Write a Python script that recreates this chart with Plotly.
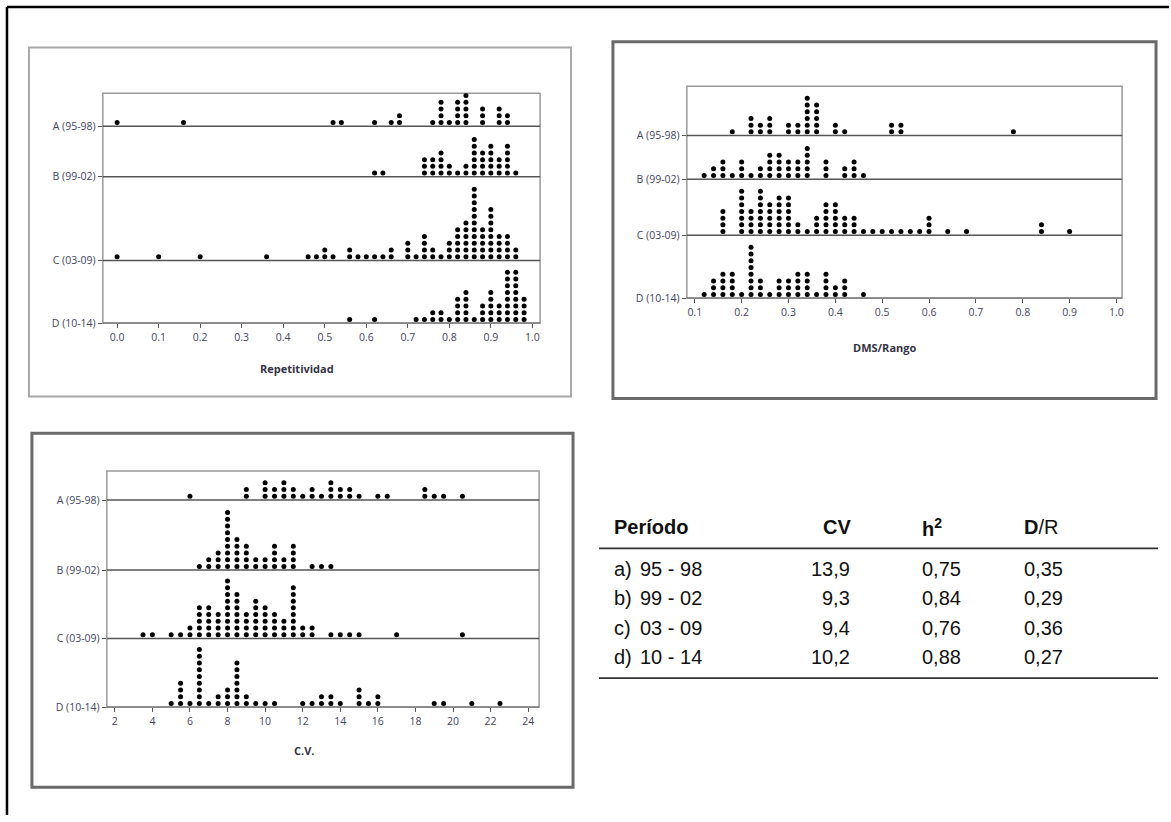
import plotly.graph_objects as go

W, H = 1171, 822

# ---------------- DATA ----------------
groups = ["A (95-98)", "B (99-02)", "C (03-09)", "D (10-14)"]

# Repetitividad (dot plot: value, number of stacked dots)
rep_A_vals = [0.00, 0.16, 0.52, 0.54, 0.62, 0.66, 0.68, 0.76, 0.78, 0.80, 0.82, 0.84, 0.88, 0.92, 0.94]
rep_A_cnts = [1, 1, 1, 1, 1, 1, 2, 1, 4, 1, 4, 6, 3, 3, 2]
rep_B_vals = [0.62, 0.64, 0.74, 0.76, 0.78, 0.80, 0.82, 0.84, 0.86, 0.88, 0.90, 0.92, 0.94, 0.96]
rep_B_cnts = [1, 1, 3, 3, 4, 2, 1, 2, 6, 4, 5, 3, 5, 1]
rep_C_vals = [0.00, 0.10, 0.20, 0.36, 0.46, 0.48, 0.50, 0.52, 0.56, 0.58, 0.60, 0.62, 0.64, 0.66,
              0.70, 0.72, 0.74, 0.76, 0.78, 0.80, 0.82, 0.84, 0.86, 0.88, 0.90, 0.92, 0.94, 0.96]
rep_C_cnts = [1, 1, 1, 1, 1, 1, 2, 1, 2, 1, 1, 1, 1, 2, 3, 1, 4, 2, 1, 3, 5, 6, 11, 5, 8, 4, 4, 2]
rep_D_vals = [0.56, 0.62, 0.72, 0.74, 0.76, 0.78, 0.80, 0.82, 0.84, 0.86, 0.88, 0.90, 0.92, 0.94, 0.96, 0.98]
rep_D_cnts = [1, 1, 1, 1, 2, 2, 1, 4, 5, 1, 3, 5, 3, 8, 8, 4]

# DMS/Rango
dms_A_vals = [0.18, 0.22, 0.24, 0.26, 0.30, 0.32, 0.34, 0.36, 0.40, 0.42, 0.52, 0.54, 0.78]
dms_A_cnts = [1, 3, 2, 3, 2, 2, 6, 5, 2, 1, 2, 2, 1]
dms_B_vals = [0.12, 0.14, 0.16, 0.18, 0.20, 0.22, 0.24, 0.26, 0.28, 0.30, 0.32, 0.34, 0.38, 0.42, 0.44, 0.46]
dms_B_cnts = [1, 2, 3, 1, 3, 1, 2, 4, 4, 3, 3, 5, 3, 2, 3, 1]
dms_C_vals = [0.16, 0.20, 0.22, 0.24, 0.26, 0.28, 0.30, 0.32, 0.34, 0.36, 0.38, 0.40, 0.42, 0.44,
              0.46, 0.48, 0.50, 0.52, 0.54, 0.56, 0.58, 0.60, 0.64, 0.68, 0.84, 0.90]
dms_C_cnts = [4, 7, 4, 7, 5, 6, 6, 2, 1, 3, 5, 5, 3, 3, 1, 1, 1, 1, 1, 1, 1, 3, 1, 1, 2, 1]
dms_D_vals = [0.12, 0.14, 0.16, 0.18, 0.20, 0.22, 0.24, 0.26, 0.28, 0.30, 0.32, 0.34, 0.36, 0.38, 0.40, 0.42, 0.46]
dms_D_cnts = [1, 3, 4, 4, 1, 8, 3, 1, 3, 3, 4, 4, 1, 4, 2, 3, 1]

# C.V.
cv_A_vals = [6.0, 9.0, 10.0, 10.5, 11.0, 11.5, 12.0, 12.5, 13.0, 13.5, 14.0, 14.5, 15.0, 16.0, 16.5, 18.5, 19.0, 19.5, 20.5]
cv_A_cnts = [1, 2, 3, 2, 3, 2, 1, 2, 1, 3, 2, 2, 1, 1, 1, 2, 1, 1, 1]
cv_B_vals = [6.5, 7.0, 7.5, 8.0, 8.5, 9.0, 9.5, 10.0, 10.5, 11.0, 11.5, 12.5, 13.0, 13.5]
cv_B_cnts = [1, 2, 3, 9, 5, 4, 2, 2, 4, 2, 4, 1, 1, 1]
cv_C_vals = [3.5, 4.0, 5.0, 5.5, 6.0, 6.5, 7.0, 7.5, 8.0, 8.5, 9.0, 9.5, 10.0, 10.5, 11.0, 11.5,
             12.0, 12.5, 13.5, 14.0, 14.5, 15.0, 17.0, 20.5]
cv_C_cnts = [1, 1, 1, 1, 2, 5, 5, 4, 9, 7, 4, 6, 5, 4, 3, 8, 2, 2, 1, 1, 1, 1, 1, 1]
cv_D_vals = [5.0, 5.5, 6.0, 6.5, 7.0, 7.5, 8.0, 8.5, 9.0, 9.5, 10.0, 10.5, 12.0, 12.5, 13.0, 13.5,
             14.0, 15.0, 15.5, 16.0, 19.0, 19.5, 21.0, 22.5]
cv_D_cnts = [1, 4, 1, 9, 1, 2, 3, 7, 2, 1, 1, 1, 1, 1, 2, 2, 1, 3, 1, 2, 1, 1, 1, 1]

# Summary table
tbl_header = ["<b>Período</b>", "<b>CV</b>", "<b>h<sup>2</sup></b>", "<b>D</b>/R"]
tbl_period_letter = ["a)", "b)", "c)", "d)"]
tbl_period_range = ["95 - 98", "99 - 02", "03 - 09", "10 - 14"]
tbl_cv = ["13,9", "9,3", "9,4", "10,2"]
tbl_h2 = ["0,75", "0,84", "0,76", "0,88"]
tbl_dr = ["0,35", "0,29", "0,36", "0,27"]

# ---------------- LAYOUT HELPERS ----------------
def fx(px):
    return px / W

def fy(py):
    return 1 - py / H

TXT = "#45455f"
FONT = "Open Sans"
DOT_FIRST = 3.7   # px above baseline of first dot
DOT_STEP = 6.8    # px between stacked dots

panels = [
    dict(title="Repetitividad", left=103, right=541, top=94, bottom=326,
         xr=[-0.0344, 1.0185], ticks=[i / 10 for i in range(11)], fmt="{:.1f}",
         bases=[127.3, 178.3, 262.7, 326.0], title_x=298, title_y=372,
         data=[(rep_A_vals, rep_A_cnts), (rep_B_vals, rep_B_cnts),
               (rep_C_vals, rep_C_cnts), (rep_D_vals, rep_D_cnts)]),
    dict(title="DMS/Rango", left=688, right=1124, top=87, bottom=300.7,
         xr=[0.083, 1.012], ticks=[i / 10 for i in range(1, 11)], fmt="{:.1f}",
         bases=[136.7, 180.7, 237.3, 300.7], title_x=886, title_y=350,
         data=[(dms_A_vals, dms_A_cnts), (dms_B_vals, dms_B_cnts),
               (dms_C_vals, dms_C_cnts), (dms_D_vals, dms_D_cnts)]),
    dict(title="C.V.", left=107, right=540, top=475, bottom=713.3,
         xr=[1.575, 24.58], ticks=list(range(2, 25, 2)), fmt="{:d}",
         bases=[504.3, 575.0, 644.0, 713.3], title_x=305, title_y=757,
         data=[(cv_A_vals, cv_A_cnts), (cv_B_vals, cv_B_cnts),
               (cv_C_vals, cv_C_cnts), (cv_D_vals, cv_D_cnts)]),
]

fig = go.Figure()
shapes = []
annotations = []
layout_axes = {}

for i, p in enumerate(panels):
    n = "" if i == 0 else str(i + 1)
    height_px = p["bottom"] - p["top"]
    base_y = [p["bottom"] - b for b in p["bases"]]
    xs, ys = [], []
    for (vals, cnts), by in zip(p["data"], base_y):
        for v, c in zip(vals, cnts):
            for k in range(c):
                xs.append(v)
                ys.append(by + DOT_FIRST + DOT_STEP * k)
    fig.add_trace(go.Scatter(x=xs, y=ys, mode="markers",
                             marker=dict(color="black", size=5, line=dict(width=0)),
                             xaxis="x" + n, yaxis="y" + n, showlegend=False,
                             hoverinfo="x"))
    layout_axes["xaxis" + n] = dict(
        domain=[fx(p["left"]), fx(p["right"])], range=p["xr"], anchor="y" + n,
        tickvals=p["ticks"], ticktext=[p["fmt"].format(t) for t in p["ticks"]],
        ticks="outside", ticklen=4, tickwidth=1, tickcolor="#555",
        tickfont=dict(family=FONT, size=10.5, color=TXT),
        showgrid=False, zeroline=False, showline=False, fixedrange=True)
    layout_axes["yaxis" + n] = dict(
        domain=[fy(p["bottom"]), fy(p["top"])], range=[0, height_px], anchor="x" + n,
        tickvals=base_y, ticktext=groups, ticks="outside", ticklen=4, tickwidth=1,
        tickcolor="#555", tickfont=dict(family=FONT, size=10.5, color=TXT),
        showgrid=False, zeroline=False, showline=False, fixedrange=True)
    # plot-area frame
    shapes.append(dict(type="rect", xref="paper", yref="paper",
                       x0=fx(p["left"]), x1=fx(p["right"]), y0=fy(p["bottom"]), y1=fy(p["top"]),
                       line=dict(color="#9a9a9a", width=1.5), layer="below"))
    # group baselines
    for by in base_y:
        shapes.append(dict(type="line", xref="x" + n + " domain", yref="y" + n,
                           x0=0, x1=1, y0=by, y1=by,
                           line=dict(color="#555", width=1.5), layer="below"))
    annotations.append(dict(text="<b>" + p["title"] + "</b>", xref="paper", yref="paper",
                            x=fx(p["title_x"]), y=fy(p["title_y"]), showarrow=False,
                            xanchor="center", yanchor="middle",
                            font=dict(family=FONT, size=11, color="#333344")))

# panel boxes
box_specs = [((29, 48, 572, 400), "#a8a8a8", 2),
             ((614, 42, 1158, 402), "#6a6a6a", 3),
             ((32, 437, 574, 794), "#6a6a6a", 3)]
for (x0, y0, x1, y1), col, wd in box_specs:
    shapes.append(dict(type="rect", xref="paper", yref="paper",
                       x0=fx(x0), x1=fx(x1), y0=fy(y1), y1=fy(y0),
                       line=dict(color=col, width=wd), layer="below"))

# outer frame (top and left edges)
shapes.append(dict(type="line", xref="paper", yref="paper", x0=fx(7), x1=1, y0=fy(7), y1=fy(7),
                   line=dict(color="black", width=2.5)))
shapes.append(dict(type="line", xref="paper", yref="paper", x0=fx(7), x1=fx(7), y0=fy(7), y1=0,
                   line=dict(color="black", width=2.5)))

# ---------------- TABLE ----------------
TF = "Liberation Sans"
TS = 20
tcol = "#111"
head_y = 532
row_y = [574, 603.5, 633, 662.5]
col_header_x = [613, 822, 922, 1024]
for txt, x in zip(tbl_header, col_header_x):
    annotations.append(dict(text=txt, xref="paper", yref="paper", x=fx(x), y=fy(head_y),
                            xanchor="left", yanchor="middle", showarrow=False,
                            font=dict(family=TF, size=TS, color=tcol)))
for j, ry in enumerate(row_y):
    annotations.append(dict(text=tbl_period_letter[j], xref="paper", yref="paper", x=fx(613), y=fy(ry),
                            xanchor="left", yanchor="middle", showarrow=False,
                            font=dict(family=TF, size=TS, color=tcol)))
    annotations.append(dict(text=tbl_period_range[j], xref="paper", yref="paper", x=fx(639), y=fy(ry),
                            xanchor="left", yanchor="middle", showarrow=False,
                            font=dict(family=TF, size=TS, color=tcol)))
    annotations.append(dict(text=tbl_cv[j], xref="paper", yref="paper", x=fx(853), y=fy(ry),
                            xanchor="right", yanchor="middle", showarrow=False,
                            font=dict(family=TF, size=TS, color=tcol)))
    annotations.append(dict(text=tbl_h2[j], xref="paper", yref="paper", x=fx(922), y=fy(ry),
                            xanchor="left", yanchor="middle", showarrow=False,
                            font=dict(family=TF, size=TS, color=tcol)))
    annotations.append(dict(text=tbl_dr[j], xref="paper", yref="paper", x=fx(1024), y=fy(ry),
                            xanchor="left", yanchor="middle", showarrow=False,
                            font=dict(family=TF, size=TS, color=tcol)))
for ly in (553, 684):
    shapes.append(dict(type="line", xref="paper", yref="paper", x0=fx(600), x1=fx(1160),
                       y0=fy(ly), y1=fy(ly), line=dict(color="#333", width=1.8)))

fig.update_layout(width=W, height=H, autosize=False,
                  margin=dict(l=0, r=0, t=0, b=0, pad=0),
                  paper_bgcolor="white", plot_bgcolor="white",
                  shapes=shapes, annotations=annotations, showlegend=False,
                  **layout_axes)

fig.write_html("out.html", config={"displayModeBar": False})
